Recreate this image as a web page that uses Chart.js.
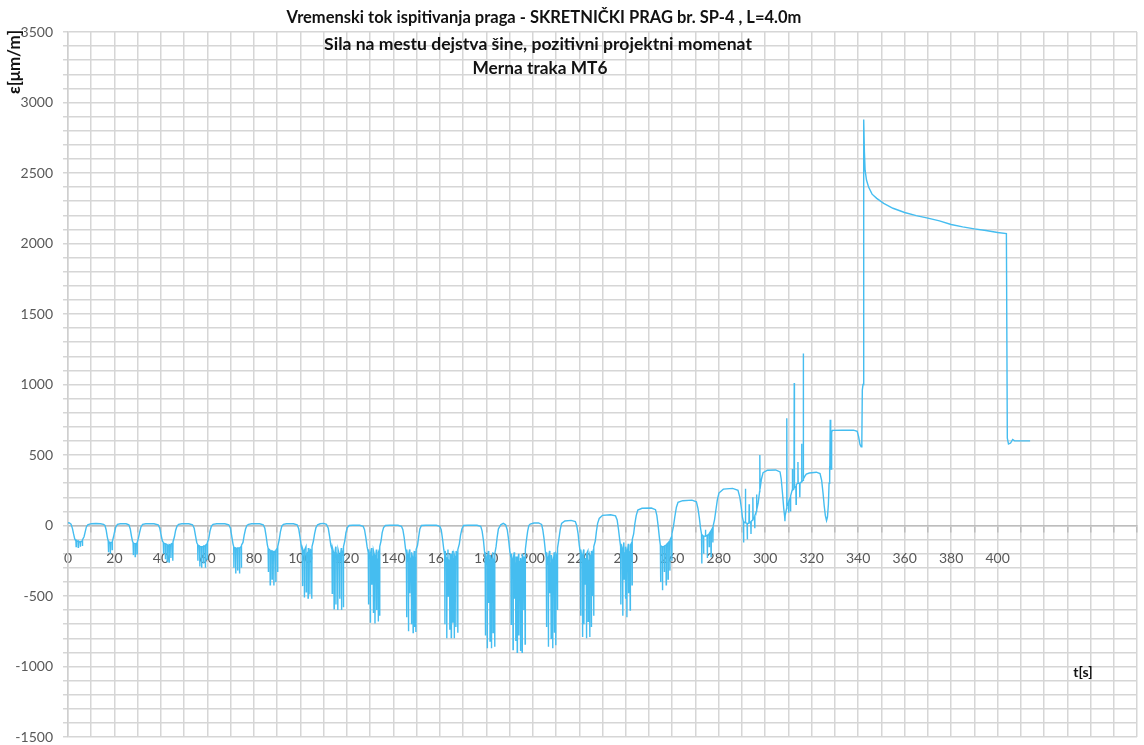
<!DOCTYPE html>
<html>
<head>
<meta charset="utf-8">
<script src="https://cdn.jsdelivr.net/npm/chart.js@4.4.1/dist/chart.umd.min.js"></script>
<style>
  html, body { margin: 0; padding: 0; background: #ffffff; }
  #wrap { width: 1144px; height: 745px; position: relative; overflow: hidden; }
</style>
</head>
<body>
<div id="wrap"><canvas id="c" width="1144" height="745"></canvas></div>
<script>
// ---- Texts ----
const titleLines = [
  "Vremenski tok ispitivanja praga - SKRETNIČKI PRAG br. SP-4 , L=4.0m",
  "Sila na mestu dejstva šine, pozitivni projektni momenat",
  "Merna traka MT6"
];
const yAxisTitle = "ε[μm/m]";
const xAxisTitle = "t[s]";

// ---- Axis ranges / tick labels ----
const xMin = 0, xMax = 460, xStep = 10;
const xLabelValues = [0,20,40,60,80,100,120,140,160,180,200,220,240,260,280,300,320,340,360,380,400];
const yMin = -1500, yMax = 3500, yStep = 100;
const yLabelValues = [-1500,-1000,-500,0,500,1000,1500,2000,2500,3000,3500];

// ---- Data: [t (s), strain (μm/m)] ----
const seg0to62 = [
[0,20],[0.6,18],[1.3,10],[1.9,-20],[2.4,-60],[2.9,-95],[3.4,-110],[3.5,-150],[3.6,-105],[4.3,-115],[4.4,-155],[4.5,-110],[5.2,-120],[5.3,-150],[5.4,-115],[6.1,-110],[6.2,-145],[6.3,-100],[6.9,-80],[7.4,-45],[7.9,-10],[8.5,5],[9.3,10],
[10,12],[12,14],[14,12],[15.3,8],
[15.9,0],[16.4,-30],[16.9,-80],[17.3,-110],[17.4,-190],[17.5,-110],[18.1,-130],[18.2,-200],[18.3,-120],[18.9,-120],[19,-170],[19.1,-110],[19.6,-80],[20.1,-40],[20.6,-10],[21.3,8],
[22.5,12],[25,12],[26.2,5],
[26.8,-25],[27.3,-75],[27.8,-115],[28,-120],[28.1,-210],[28.2,-125],[28.8,-130],[28.9,-220],[29,-130],[29.6,-125],[29.7,-200],[29.8,-120],[30.3,-90],[30.8,-50],[31.4,-10],[32.1,8],
[33.5,12],[37,12],[38.8,5],
[39.5,-20],[40.1,-70],[40.6,-110],[41,-120],[41.1,-200],[41.2,-125],[41.8,-130],[41.9,-240],[42,-130],[42.6,-135],[42.7,-255],[42.8,-140],[43.4,-140],[43.5,-260],[43.6,-135],[44.2,-140],[44.3,-230],[44.4,-130],[45,-125],[45.1,-250],[45.2,-115],[45.8,-80],[46.3,-35],[46.9,-5],[47.6,8],
[49,12],[52,12],[53.6,5],
[54.3,-20],[54.9,-75],[55.4,-120],[55.8,-135],[55.9,-250],[56,-140],[56.6,-145],[56.7,-290],[56.8,-150],[57.4,-150],[57.5,-300],[57.6,-150],[58.2,-150],[58.3,-270],[58.4,-145],[59,-145],[59.1,-300],[59.2,-140],[59.8,-130],[59.9,-240],[60,-120],[60.6,-90],[61.1,-40],[61.7,-5],[62.4,8]
];
const seg62to121 = [
[64,12],[67.5,12],[69.2,5],
[69.9,-20],[70.5,-80],[71,-130],[71.3,-150],[71.4,-300],[71.5,-155],[72.1,-160],[72.2,-340],[72.3,-160],[72.9,-165],[73,-320],[73.1,-160],[73.7,-160],[73.8,-340],[73.9,-160],[74.5,-150],[74.6,-300],[74.7,-140],[75.3,-120],[75.8,-70],[76.4,-25],[77,0],[77.7,8],
[79,12],[82.5,12],[84,5],
[84.7,-20],[85.3,-80],[85.8,-140],[86.1,-160],[86.2,-330],[86.3,-165],[86.9,-175],[87,-420],[87.1,-180],[87.7,-180],[87.8,-380],[87.9,-180],[88.5,-185],[88.6,-425],[88.7,-185],[89.3,-180],[89.4,-400],[89.5,-175],[90.1,-160],[90.2,-330],[90.3,-150],[90.9,-100],[91.4,-45],[92,-5],[92.7,8],
[94,12],[97,12],[98.6,5],
[99.3,-25],[99.9,-90],[100.4,-150],[100.8,-180],[100.9,-430],[101,-165],[101.6,-200],[101.7,-510],[101.8,-175],[102.4,-150],[102.5,-470],[102.6,-210],[103.2,-190],[103.3,-515],[103.4,-160],[104,-210],[104.1,-490],[104.2,-170],[104.8,-180],[104.9,-520],[105,-150],[105.6,-110],[106.1,-60],[106.7,-15],[107.4,5],
[108.5,12],[110,15],[111.2,8],
[112,-20],[112.6,-80],[113.1,-140],[113.6,-170],[113.7,-480],[113.8,-160],[114.4,-200],[114.5,-590],[114.6,-230],[115.2,-150],[115.3,-560],[115.4,-190],[116,-240],[116.1,-600],[116.2,-170],[116.8,-210],[116.9,-520],[117,-260],[117.6,-160],[117.7,-600],[117.8,-220],[118.4,-180],[118.5,-580],[118.6,-150],[119.1,-110],[119.6,-50],[120.2,-15],[121,0]
];
const seg121to186 = [
[122.5,2],[125.5,2],[127,-5],
[127.6,-30],[128.2,-90],[128.7,-150],[129.2,-190],[129.3,-560],[129.4,-170],[130,-240],[130.1,-690],[130.2,-200],[130.6,-160],[130.7,-420],[130.8,-210],[131.3,-250],[131.4,-620],[131.5,-180],[132,-220],[132.1,-695],[132.2,-260],[132.7,-170],[132.8,-600],[132.9,-230],[133.4,-280],[133.5,-680],[133.6,-190],[134,-170],[134.1,-640],[134.2,-150],[134.7,-110],[135.2,-50],[135.8,-15],[136.6,0],
[138.5,2],[142,2],[143.5,-5],
[144.1,-30],[144.7,-90],[145.2,-160],[145.6,-200],[145.7,-650],[145.8,-170],[146.4,-260],[146.5,-750],[146.6,-210],[147,-170],[147.1,-480],[147.2,-230],[147.7,-280],[147.8,-700],[147.9,-190],[148.4,-240],[148.5,-760],[148.6,-270],[149,-180],[149.1,-720],[149.2,-220],[149.6,-260],[149.7,-755],[149.8,-170],[150.4,-140],[150.9,-80],[151.4,-25],[152.1,0],
[154,2],[158.5,2],[160,-5],
[160.6,-30],[161.2,-100],[161.7,-170],[162.1,-210],[162.2,-700],[162.3,-180],[162.9,-260],[163,-800],[163.1,-230],[163.5,-170],[163.6,-500],[163.7,-240],[164.2,-290],[164.3,-740],[164.4,-200],[164.8,-240],[164.9,-795],[165,-270],[165.5,-180],[165.6,-690],[165.7,-230],[166.1,-290],[166.2,-800],[166.3,-210],[166.8,-250],[166.9,-720],[167,-180],[167.6,-230],[167.7,-760],[167.8,-170],[168.4,-130],[168.9,-70],[169.5,-25],[170.2,0],
[172,2],[176,2],[177.6,-5],
[178.2,-40],[178.8,-110],[179.2,-180],[179.5,-220],[179.6,-780],[179.7,-190],[180.3,-280],[180.4,-870],[180.5,-230],[180.9,-180],[181,-550],[181.1,-250],[181.5,-300],[181.6,-820],[181.7,-210],[182.1,-260],[182.2,-870],[182.3,-290],[182.8,-190],[182.9,-760],[183,-240],[183.5,-280],[183.6,-860],[183.7,-200],[184.2,-150],[184.7,-80],[185.2,-25]
];
const seg186to246 = [
[186.2,5],[187.3,15],[188.3,5],
[189,-30],[189.6,-100],[190.1,-180],[190.6,-230],[190.7,-700],[190.8,-200],[191.4,-290],[191.5,-880],[191.6,-240],[192,-190],[192.1,-520],[192.2,-260],[192.6,-300],[192.7,-820],[192.8,-220],[193.2,-270],[193.3,-900],[193.4,-300],[193.9,-200],[194,-780],[194.1,-250],[194.6,-310],[194.7,-890],[194.8,-230],[195.3,-280],[195.4,-900],[195.5,-200],[196,-250],[196.1,-600],[196.2,-220],[196.6,-260],[196.7,-840],[196.8,-170],[197.3,-100],[197.8,-40],[198.3,0],[198.9,10],
[200.5,18],[202.5,18],[203.8,8],
[204.3,-30],[204.9,-100],[205.4,-180],[205.8,-230],[205.9,-720],[206,-190],[206.6,-280],[206.7,-860],[206.8,-230],[207.2,-180],[207.3,-480],[207.4,-260],[207.8,-300],[207.9,-800],[208,-210],[208.5,-260],[208.6,-870],[208.7,-290],[209.2,-190],[209.3,-760],[209.4,-240],[209.8,-280],[209.9,-850],[210,-200],[210.5,-220],[210.6,-600],[210.7,-160],[211.2,-100],[211.8,-30],[212.4,15],
[213.8,32],[216.5,36],[218.3,28],
[218.9,0],[219.5,-60],[220,-140],[220.5,-200],[220.6,-640],[220.7,-170],[221.3,-250],[221.4,-790],[221.5,-220],[221.9,-170],[222,-700],[222.1,-240],[222.5,-280],[222.6,-420],[222.7,-230],[223,-260],[223.1,-800],[223.2,-200],[223.7,-180],[223.8,-680],[223.9,-250],[224.4,-290],[224.5,-790],[224.6,-210],[225.1,-240],[225.2,-720],[225.3,-180],[225.6,-220],[225.7,-500],[225.8,-200],[226.1,-170],[226.2,-640],[226.3,-150],[226.9,-110],[227.4,-40],[227.9,15],[228.6,50],
[230,72],[233.5,76],[235.6,68],
[236.3,40],[236.9,-30],[237.4,-100],[237.8,-150],[237.9,-560],[238,-130],[238.6,-200],[238.7,-640],[238.8,-170],[239.2,-120],[239.3,-380],[239.4,-190],[239.8,-230],[239.9,-520],[240,-150],[240.4,-190],[240.5,-650],[240.6,-210],[241.1,-130],[241.2,-480],[241.3,-180],[241.8,-200],[241.9,-600],[242,-140],[242.6,-120],[242.7,-420],[242.8,-100],[243.4,-60],[243.9,10],[244.5,70],[245.2,110]
];
const seg246to318 = [
[247,122],[251,124],[252.8,112],
[253.4,70],[254,-10],[254.5,-90],[254.9,-140],[255,-400],[255.1,-145],[255.7,-150],[255.8,-460],[255.9,-150],[256.5,-150],[256.6,-330],[256.7,-145],[257.3,-140],[257.4,-420],[257.5,-135],[258.1,-125],[258.2,-380],[258.3,-120],[258.9,-110],[259,-320],[259.1,-100],[259.7,-80],[259.8,-250],[259.9,-60],[260.5,-10],[261.1,60],[261.8,130],[262.5,165],
[264.5,176],[268.5,180],[270.4,168],
[271.1,120],[271.7,50],[272.2,-20],[272.6,-60],[272.7,-270],[272.8,-65],[273.4,-75],[273.5,-200],[273.6,-75],[274.2,-75],[274.3,-30],[274.4,-75],[275,-70],[275.1,-230],[275.2,-70],[275.8,-60],[275.9,-150],[276,-55],[276.6,-40],[276.7,-220],[276.8,-35],[277.4,-15],[277.5,-120],[277.6,-5],[278.2,40],[278.8,110],[279.4,180],[280.1,230],
[282,258],[286,263],[288.3,250],
[289.1,200],[289.7,130],[290.2,60],[290.6,30],[290.7,-120],[290.8,25],[291.4,20],[291.5,260],[291.6,20],[292.2,15],[292.3,-100],[292.4,15],[293,15],[293.1,150],[293.2,20],[293.8,25],[293.9,-60],[294,30],[294.6,40],[294.7,200],[294.8,45],[295.4,60],[295.5,-20],[295.6,70],[296.2,100],[296.3,220],[296.4,110],[297,160],[297.6,240],[297.7,500],[297.8,260],[298.4,330],[299.1,375],
[301,392],[304.5,394],[306.4,380],
[306.9,330],[307.5,220],[308,120],[308.4,60],[308.5,30],[308.6,70],[309.2,120],[309.3,760],[309.4,140],[310,160],[310.1,90],[310.2,170],[310.8,200],[310.9,100],[311,210],[311.6,250],[311.7,400],[311.8,250],[312.4,260],[312.5,1010],[312.6,270],[313.2,280],[313.3,150],[313.4,290],[314,300],[314.1,450],[314.2,300],[314.8,300],[314.9,200],[315,300],[315.6,310],[315.7,580],[315.8,310],[316.3,320],[316.4,1220],[316.5,330],[317.1,350],[317.7,365]
];
const seg318to415 = [
[319,372],[322,378],[323.6,368],
[324.3,320],[324.9,230],[325.4,140],[325.9,70],[326.4,35],[326.8,60],[327.2,150],[327.5,300],[327.7,420],[327.8,300],[328,750],[328.1,420],[328.3,620],[328.4,400],[328.6,660],[328.9,675],
[333,676],[338,676],[339.6,668],[340.2,630],[340.8,575],[341.3,558],[341.6,610],[341.8,960],[342.1,1000],[342.3,1900],[342.5,2880],[342.7,2650],[343,2520],[343.6,2450],[344.5,2400],[346,2350],[348,2320],[351,2285],[355,2250],[360,2220],[365,2198],[370,2180],[375,2160],[380,2135],[385,2118],[390,2104],[395,2092],[400,2078],[403.8,2070],
[404.2,620],[404.7,578],[405.6,585],[406.5,610],[407.3,600],[410,600],[414,600]
];

const segments = [seg0to62, seg62to121, seg121to186, seg186to246, seg246to318, seg318to415];
const points = [];
segments.forEach(s => s.forEach(p => points.push({ x: p[0], y: p[1] })));

const lineColor = '#45bdf0';
const gridColor = '#d6d6d6';
const labelColor = '#595959';
const fontFamily = 'Lato, "Open Sans", "Liberation Sans", sans-serif';

// draw text scaled so it spans a given width
function fitText(ctx, text, cx, cy, targetW, baseSize) {
  ctx.font = 'bold ' + baseSize + 'px ' + fontFamily;
  const w = ctx.measureText(text).width;
  const size = baseSize * targetW / w;
  ctx.font = 'bold ' + size.toFixed(2) + 'px ' + fontFamily;
  ctx.fillText(text, cx, cy);
}

const textPlugin = {
  id: 'texts',
  afterDraw(chart) {
    const ctx = chart.ctx;
    ctx.save();
    ctx.fillStyle = '#111111';
    ctx.textAlign = 'center';
    ctx.textBaseline = 'middle';
    fitText(ctx, titleLines[0], 544, 18, 515, 14);
    fitText(ctx, titleLines[1], 538, 44, 428, 14);
    fitText(ctx, titleLines[2], 540, 68, 135, 15);
    ctx.font = 'bold 14px ' + fontFamily;
    ctx.fillText(xAxisTitle, 1083, 672);
    ctx.translate(15, 62);
    ctx.rotate(-Math.PI / 2);
    fitText(ctx, yAxisTitle, 0, 0, 64, 13);
    ctx.restore();
  }
};

new Chart(document.getElementById('c'), {
  type: 'line',
  data: {
    datasets: [{
      data: points,
      borderColor: lineColor,
      borderWidth: 1.4,
      pointRadius: 0,
      tension: 0,
      fill: false
    }]
  },
  options: {
    responsive: false,
    animation: false,
    devicePixelRatio: 1,
    layout: { padding: { top: 32, bottom: 8, right: 7, left: 0 } },
    plugins: { legend: { display: false }, title: { display: false }, tooltip: { enabled: false } },
    scales: {
      x: {
        type: 'linear',
        position: { y: 0 },
        min: xMin, max: xMax,
        afterFit: (scale) => { scale.paddingLeft = 0; scale.paddingRight = 0; },
        ticks: {
          stepSize: xStep,
          autoSkip: false,
          maxRotation: 0,
          padding: 19,
          color: labelColor,
          font: { family: fontFamily, size: 14 },
          callback: (v) => xLabelValues.includes(v) ? String(v) : ''
        },
        grid: { color: gridColor, lineWidth: 1.5, tickLength: 6, tickColor: '#bdbdbd' },
        border: { color: '#bdbdbd', width: 1.5 }
      },
      y: {
        type: 'linear',
        min: yMin, max: yMax,
        afterFit: (scale) => { scale.width = 68; scale.paddingTop = 0; scale.paddingBottom = 0; },
        ticks: {
          stepSize: yStep,
          autoSkip: false,
          padding: 10,
          color: labelColor,
          font: { family: fontFamily, size: 14 },
          callback: (v) => yLabelValues.includes(v) ? String(v) : ''
        },
        grid: { color: gridColor, lineWidth: 1.5, tickLength: 5 },
        border: { color: '#cfcfcf', width: 1.5 }
      }
    }
  },
  plugins: [textPlugin]
});
</script>
</body>
</html>
